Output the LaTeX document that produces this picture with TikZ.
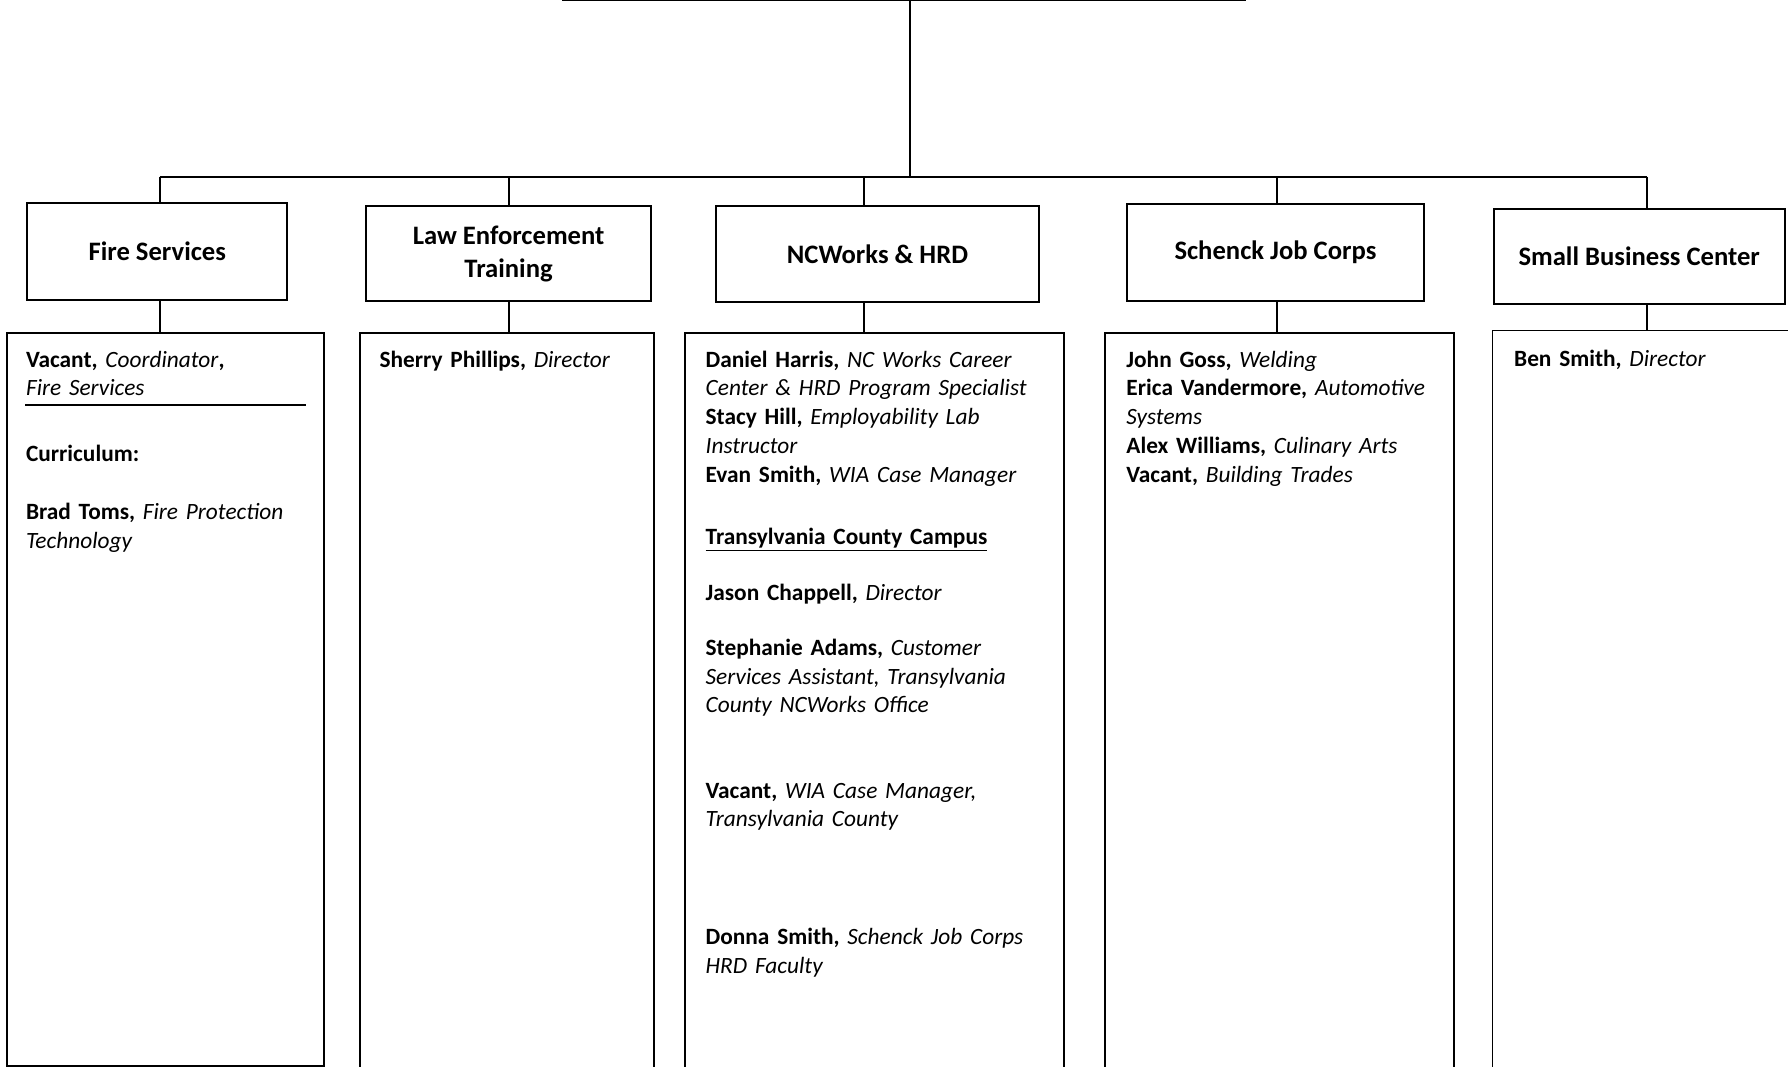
\documentclass[tikz,border=0pt]{standalone}
\usepackage{fontspec}
\setmainfont{Carlito}
\usepackage{tikz}

\newcommand{\who}[2]{\textbf{#1,} \textit{#2}}

\begin{document}
\begin{tikzpicture}[x=0.02cm, y=-0.02cm,
  line width=0.95pt,
  headbox/.style={draw, rectangle, inner sep=0pt, align=center, font=\fontsize{13.3}{16.4}\selectfont\bfseries},
  staffbox/.style={draw, rectangle, inner sep=0pt, anchor=north west},
  staff/.style={anchor=base west, inner sep=0pt, align=left, font=\fontsize{11.65}{14.35}\selectfont}]

\clip (0,0) rectangle (1568,935);

% TOP %%%%%%%%%%%%%%%%%%%%%%%%%%%%%%%%%%%%%%%%%%%%%%%%%%%%%%%%%%%%%%%%%%%%%

\coordinate (topL) at (493,0);
\coordinate (topR) at (1093,0);
\coordinate (top) at (798,0);
\draw[line width = 1.4pt] (topL) -- (topR);

\coordinate (b1) at (140,155);
\coordinate (b2) at (446,155);
\coordinate (b3) at (758,155);
\coordinate (b4) at (1120,155);
\coordinate (b5) at (1444,155);
\coordinate (bus) at (798,155);

\draw (top) -- (bus);
\draw[line width = 1.2pt] (b1) -- (b5);

% DEPARTMENTS %%%%%%%%%%%%%%%%%%%%%%%%%%%%%%%%%%%%%%%%%%%%%%%%%%%%%%%%%%%%%

\node[headbox, minimum width=4.56cm, minimum height=1.70cm] (fire) at (138,220.5) {Fire Services};
\node[headbox, minimum width=5.00cm, minimum height=1.66cm] (law) at (446,222.5) {Law Enforcement\\Training};
\node[headbox, minimum width=5.66cm, minimum height=1.68cm] (ncw) at (769.5,223) {NCWorks \& HRD};
\node[headbox, minimum width=5.22cm, minimum height=1.70cm] (sjc) at (1118.5,221.5) {Schenck Job Corps};
\node[headbox, minimum width=5.10cm, minimum height=1.68cm] (sbc) at (1437.5,225) {Small Business Center};

% STAFF BOXES %%%%%%%%%%%%%%%%%%%%%%%%%%%%%%%%%%%%%%%%%%%%%%%%%%%%%%%%%%%%%

\node[staffbox, minimum width=5.56cm, minimum height=12.86cm] (fireL) at (5,291) {};
\node[staffbox, minimum width=5.16cm, minimum height=14cm] (lawL) at (315,291) {};
\node[staffbox, minimum width=6.64cm, minimum height=14cm] (ncwL) at (600,291) {};
\node[staffbox, minimum width=6.12cm, minimum height=14cm] (sjcL) at (968,291) {};
\node[staffbox, minimum width=6.00cm, minimum height=14cm] (sbcL) at (1308,289) {};

% LINKS %%%%%%%%%%%%%%%%%%%%%%%%%%%%%%%%%%%%%%%%%%%%%%%%%%%%%%%%%%%%%%%%%%%

\draw (b1) -- (b1 |- fire.north);
\draw (b2) -- (b2 |- law.north);
\draw (b3) -- (b3 |- ncw.north);
\draw (b4) -- (b4 |- sjc.north);
\draw (b5) -- (b5 |- sbc.north);

\draw (b1 |- fire.south) -- (b1 |- fireL.north);
\draw (b2 |- law.south) -- (b2 |- lawL.north);
\draw (b3 |- ncw.south) -- (b3 |- ncwL.north);
\draw (b4 |- sjc.south) -- (b4 |- sjcL.north);
\draw (b5 |- sbc.south) -- (b5 |- sbcL.north);

% NAMES %%%%%%%%%%%%%%%%%%%%%%%%%%%%%%%%%%%%%%%%%%%%%%%%%%%%%%%%%%%%%%%%%%%

\node[staff, text width=5.4cm] (fireT) at (22,322) {\textbf{Vacant,} \textit{Coordinator}\textbf{,}\\
\textit{Fire Services}\\[18.6pt]
\textbf{Curriculum:}\\[14.4pt]
\who{Brad Toms}{Fire Protection}\\
\textit{Technology}};
\draw (22,355) -- (268,355);

\node[staff, text width=5cm] (lawT) at (332,322) {\who{Sherry Phillips}{Director}};

\node[staff, text width=6.4cm] (ncwT) at (618,322) {\who{Daniel Harris}{NC Works Career}\\
\textit{Center \& HRD Program Specialist}\\
\who{Stacy Hill}{Employability Lab}\\
\textit{Instructor}\\
\who{Evan Smith}{WIA Case Manager}\\[16.7pt]
\underline{\textbf{Transylvania County Campus}}\\[13.6pt]
\who{Jason Chappell}{Director}\\[13.1pt]
\who{Stephanie Adams}{Customer}\\
\textit{Services Assistant, Transylvania}\\
\textit{County NCWorks Office}\\[28.2pt]
\who{Vacant}{WIA Case Manager,}\\
\textit{Transylvania County}\\[44.3pt]
\who{Donna Smith}{Schenck Job Corps}\\
\textit{HRD Faculty}};

\node[staff, text width=6cm] (sjcT) at (987,322) {\who{John Goss}{Welding}\\
\who{Erica Vandermore}{Automotive}\\
\textit{Systems}\\
\who{Alex Williams}{Culinary Arts}\\
\who{Vacant}{Building Trades}};

\node[staff, text width=5.4cm] (sbcT) at (1327,321) {\who{Ben Smith}{Director}};

\end{tikzpicture}
\end{document}
